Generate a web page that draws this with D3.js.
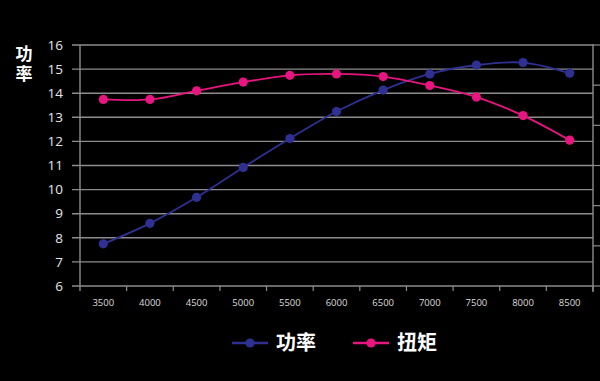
<!DOCTYPE html>
<html><head><meta charset="utf-8">
<script src="https://cdn.jsdelivr.net/npm/d3@7"></script>
<style>
html,body{margin:0;padding:0;background:#000;}
svg{display:block;}
</style></head>
<body><svg id="c" width="600" height="381"></svg>
<script>
const categories = ["3500","4000","4500","5000","5500","6000","6500","7000","7500","8000","8500"];
const powerValues = [7.75, 8.6, 9.68, 10.92, 12.12, 13.24, 14.13, 14.8, 15.17, 15.27, 14.83];
const torqueValues = [13.74, 13.74, 14.1, 14.46, 14.74, 14.8, 14.69, 14.32, 13.84, 13.07, 12.05];
const yTicks = [6,7,8,9,10,11,12,13,14,15,16];
const seriesNames = ["功率","扭矩"];
const seriesColors = ["#2e3192","#e8147f"];
const yTitle = "功率";

const svg = d3.select("#c");
const pL = 80, pR = 593, pT = 45, pB = 286;
const font = "'Open Sans','Noto Sans CJK SC',sans-serif";

const x = d3.scaleBand().domain(categories).range([pL, pR]).padding(0);
const y = d3.scaleLinear().domain([6,16]).range([pB, pT]);

// gridlines
svg.append("g").selectAll("line").data(yTicks).join("line")
  .attr("x1", pL - 8).attr("x2", pR)
  .attr("y1", d => y(d)).attr("y2", d => y(d))
  .attr("stroke", "#8c8c8c").attr("stroke-width", 1.4);

// left axis line
svg.append("line").attr("x1", pL).attr("x2", pL).attr("y1", pT).attr("y2", pB + 5)
  .attr("stroke", "#8c8c8c").attr("stroke-width", 1.4);
// right axis line
svg.append("line").attr("x1", pR).attr("x2", pR).attr("y1", pT - 1).attr("y2", pB + 6)
  .attr("stroke", "#8c8c8c").attr("stroke-width", 1.4);
const rTicks = d3.range(0, 7).map(i => pT + i * (pB - pT) / 6);
svg.append("g").selectAll("line").data(rTicks).join("line")
  .attr("x1", pR).attr("x2", pR + 8)
  .attr("y1", d => d).attr("y2", d => d)
  .attr("stroke", "#8c8c8c").attr("stroke-width", 1.2);

// x tick marks at band edges
const edges = categories.slice(1).map(c => x(c)).concat([pR]);
svg.append("g").selectAll("line").data(edges).join("line")
  .attr("x1", d => d).attr("x2", d => d).attr("y1", pB).attr("y2", pB + 5)
  .attr("stroke", "#8c8c8c").attr("stroke-width", 1.2);

// y tick labels
svg.append("g").selectAll("text").data(yTicks).join("text")
  .attr("x", 63).attr("y", d => y(d)).attr("dy", "0.35em")
  .attr("text-anchor", "end").attr("fill", "#e6e6e6")
  .attr("font-family", font).attr("font-size", 13.5).text(d => d);

// x tick labels
svg.append("g").selectAll("text").data(categories).join("text")
  .attr("x", d => x(d) + x.bandwidth() / 2).attr("y", 303).attr("dy", "0.35em")
  .attr("text-anchor", "middle").attr("fill", "#dcdcdc")
  .attr("font-family", font).attr("font-size", 9.5).text(d => d);

// y title (vertical text)
svg.append("text")
  .attr("x", 24).attr("y", 45)
  .style("writing-mode", "vertical-rl")
  .attr("letter-spacing", 3)
  .attr("fill", "#fff").attr("font-weight", "bold")
  .attr("font-family", "'Noto Sans CJK SC',sans-serif").attr("font-size", 17).text(yTitle);

// series
const series = [powerValues, torqueValues];
const line = d3.line().x((d, i) => x(categories[i]) + x.bandwidth() / 2).y(d => y(d))
  .curve(d3.curveCatmullRom.alpha(0.5));
series.forEach((vals, s) => {
  svg.append("path").attr("d", line(vals)).attr("fill", "none")
    .attr("stroke", seriesColors[s]).attr("stroke-width", 1.8);
  svg.append("g").selectAll("circle").data(vals).join("circle")
    .attr("cx", (d, i) => x(categories[i]) + x.bandwidth() / 2).attr("cy", d => y(d))
    .attr("r", 4.6).attr("fill", seriesColors[s]);
});

// legend
const legX = [232, 353];
const lg = svg.append("g");
seriesNames.forEach((n, i) => {
  const g = lg.append("g").attr("transform", `translate(${legX[i]},343)`);
  g.append("line").attr("x1", 0).attr("x2", 36).attr("y1", 0).attr("y2", 0)
    .attr("stroke", seriesColors[i]).attr("stroke-width", 2.5);
  g.append("circle").attr("cx", 18).attr("cy", 0).attr("r", 4.6).attr("fill", seriesColors[i]);
  g.append("text").attr("x", 44).attr("y", 0).attr("dy", "0.36em")
    .attr("fill", "#fff").attr("font-weight", "bold")
    .attr("font-family", "'Noto Sans CJK SC',sans-serif").attr("font-size", 20).text(n);
});
</script></body></html>
